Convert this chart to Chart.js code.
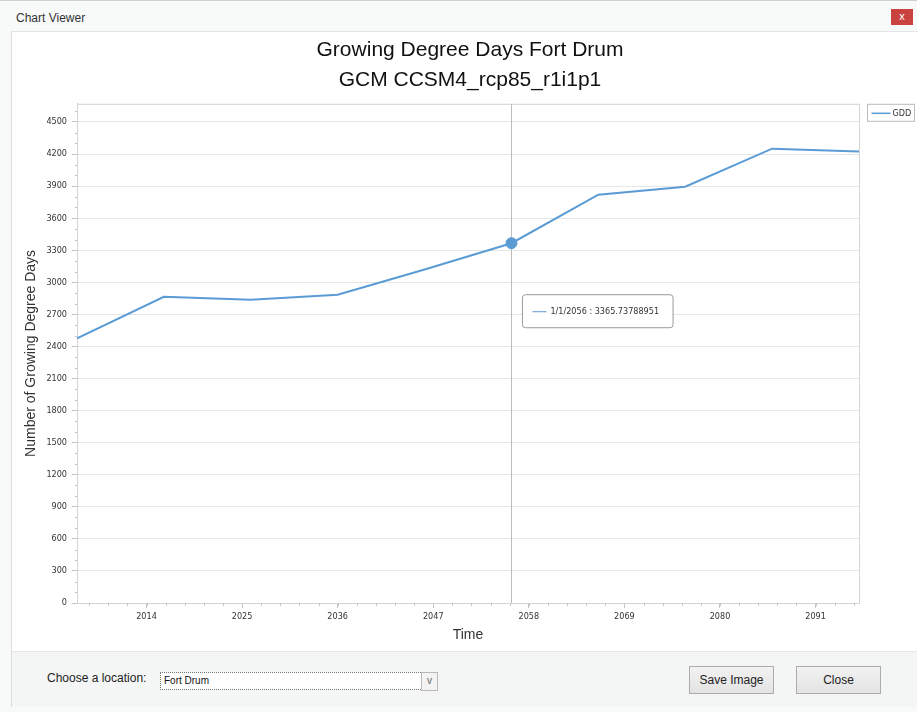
<!DOCTYPE html>
<html>
<head>
<meta charset="utf-8">
<script src="https://cdn.jsdelivr.net/npm/chart.js@4.4.1/dist/chart.umd.min.js"></script>
<style>
  body { margin: 0; width: 917px; height: 712px; background: #f8f9f9; position: relative; overflow: hidden;
         font-family: 'Liberation Sans', Arial, sans-serif; color: #333; }
  #topline { position: absolute; left: 0; top: 0; width: 917px; height: 1px; background: #cfcfcf; }
  #caption { position: absolute; left: 16px; top: 11px; font-size: 12px; color: #333; }
  #closeX { position: absolute; left: 891px; top: 9px; width: 22px; height: 16px; background: #c9423f;
            color: #fff; font-size: 11px; text-align: center; line-height: 15px; }
  #frame { position: absolute; left: 11px; top: 31px; width: 906px; height: 674px; background: #fff;
           border-left: 1px solid #dcdcdc; border-top: 1px solid #e4e4e4; border-bottom: 1px solid #d8d8d8; }
  #chartBox { position: absolute; left: 0; top: 0; width: 906px; height: 619px; }
  #panel { position: absolute; left: 0; top: 619px; width: 906px; height: 55px; background: #f4f5f5;
           border-top: 1px solid #e6e6e6; }
  #lbl { position: absolute; left: 35px; top: 19px; font-size: 12px; color: #222; }
  #sel { position: absolute; left: 148px; top: 20px; width: 258px; height: 16px; background: #fff;
         border: 1px dotted #777; font-size: 10px; line-height: 16px; padding-left: 3px; color: #111; }
  #drop { position: absolute; left: 409px; top: 20px; width: 15px; height: 17px; background: #f3f3f3;
          border: 1px solid #b9b9b9; font-size: 10px; text-align: center; line-height: 16px; color: #666; }
  .btn { position: absolute; top: 14px; width: 83px; height: 26px; border: 1px solid #acacac;
         background: linear-gradient(#f2f2f2, #e3e3e3); font-size: 12px; text-align: center; line-height: 26px; color: #222; }
</style>
</head>
<body>
<div id="topline"></div>
<div id="caption">Chart Viewer</div>
<div id="closeX">x</div>
<div id="frame">
  <div id="chartBox"><canvas id="gddChart"></canvas></div>
  <div id="panel">
    <div id="lbl">Choose a location:</div>
    <div id="sel">Fort Drum</div>
    <div id="drop">v</div>
    <div class="btn" style="left:677px">Save Image</div>
    <div class="btn" style="left:784px">Close</div>
  </div>
</div>
<script>
// ==== Data ====
const years = [2006, 2016, 2026, 2036, 2046, 2056, 2066, 2076, 2086, 2096];
const gdd = [2475, 2865, 2837, 2884, 3120, 3365.73788951, 3820, 3894, 4250, 4224];
const xTickYears = [2014, 2025, 2036, 2047, 2058, 2069, 2080, 2091];
const yTicks = [0, 300, 600, 900, 1200, 1500, 1800, 2100, 2400, 2700, 3000, 3300, 3600, 3900, 4200, 4500];
const seriesName = 'GDD';
const activeIndex = 5; // point under the cursor (1/1/2056)

const tickFont = { family: "'DejaVu Sans Condensed', 'DejaVu Sans', sans-serif", size: 9 };
const lineColor = '#5b9bd5';

// minor tick marks (shorter, no label)
const minorTicks = {
  id: 'minorTicks',
  afterDraw(chart) {
    const ctx = chart.ctx, x = chart.scales.x, y = chart.scales.y, a = chart.chartArea;
    ctx.save();
    ctx.strokeStyle = '#c4c4c4';
    ctx.lineWidth = 1;
    ctx.beginPath();
    const xStep = (xTickYears[1] - xTickYears[0]) / 5;
    for (let v = xTickYears[0] - 4 * xStep; v < x.max; v += xStep) {
      if (v < x.min) continue;
      const px = Math.round(x.getPixelForValue(v)) + 0.5;
      ctx.moveTo(px, a.bottom); ctx.lineTo(px, a.bottom + 3);
    }
    for (let v = 100; v < y.max; v += 100) {
      if (v % 300 === 0) continue;
      const py = Math.round(y.getPixelForValue(v)) + 0.5;
      ctx.moveTo(a.left - 2, py); ctx.lineTo(a.left, py);
    }
    ctx.stroke();
    ctx.restore();
  }
};

// plot frame + crosshair under the series
const frameAndCross = {
  id: 'frameAndCross',
  beforeDatasetsDraw(chart) {
    const ctx = chart.ctx, a = chart.chartArea;
    ctx.save();
    ctx.strokeStyle = '#d4d4d4';
    ctx.lineWidth = 1;
    ctx.strokeRect(a.left + 0.5, a.top + 0.5, a.width, a.height);
    const act = chart.getActiveElements();
    if (act.length) {
      const px = Math.round(act[0].element.x) + 0.5;
      ctx.strokeStyle = '#bdbdbd';
      ctx.beginPath(); ctx.moveTo(px, a.top); ctx.lineTo(px, a.bottom); ctx.stroke();
    }
    ctx.restore();
  }
};

// boxed legend to the right of the plot
const boxLegend = {
  id: 'boxLegend',
  afterDraw(chart) {
    const ctx = chart.ctx, a = chart.chartArea;
    const bx = a.right + 8.5, by = a.top + 0.5, bw = 47, bh = 17;
    ctx.save();
    ctx.fillStyle = '#fff';
    ctx.fillRect(bx, by, bw, bh);
    ctx.strokeStyle = '#bcbcbc';
    ctx.strokeRect(bx, by, bw, bh);
    ctx.strokeStyle = lineColor;
    ctx.lineWidth = 1.5;
    ctx.beginPath(); ctx.moveTo(bx + 4, by + 9); ctx.lineTo(bx + 23, by + 9); ctx.stroke();
    ctx.fillStyle = '#333';
    ctx.font = tickFont.size + 'px ' + tickFont.family;
    ctx.textBaseline = 'middle';
    ctx.fillText(chart.data.datasets[0].label, bx + 25, by + 9);
    ctx.restore();
  }
};

Chart.Tooltip.positioners.belowRight = function (items) {
  if (!items.length) return false;
  const el = items[0].element;
  return { x: el.x + 11, y: el.y + 68 };
};

const chart = new Chart(document.getElementById('gddChart'), {
  type: 'line',
  data: {
    datasets: [{
      label: seriesName,
      data: years.map((y, i) => ({ x: y, y: gdd[i] })),
      borderColor: lineColor,
      backgroundColor: lineColor,
      borderWidth: 2,
      tension: 0,
      pointRadius: 0,
      pointHoverRadius: 5.5,
      pointHoverBorderWidth: 1,
      pointHoverBackgroundColor: lineColor,
      pointHoverBorderColor: lineColor
    }]
  },
  options: {
    responsive: true,
    maintainAspectRatio: false,
    animation: false,
    events: [],
    layout: { padding: { left: 10, right: 0, top: 0, bottom: 0 } },
    plugins: {
      legend: { display: false },
      title: {
        display: true,
        text: ['Growing Degree Days Fort Drum', 'GCM CCSM4_rcp85_r1i1p1'],
        color: '#111',
        font: { family: "'Liberation Sans', Arial, sans-serif", size: 21, weight: 'normal', lineHeight: 1.4 },
        padding: { top: 4, bottom: 9 }
      },
      tooltip: {
        position: 'belowRight',
        xAlign: 'left', yAlign: 'center',
        backgroundColor: '#fff',
        borderColor: '#999',
        borderWidth: 1,
        cornerRadius: 3,
        caretSize: 0, caretPadding: 0,
        displayColors: true, usePointStyle: true,
        boxWidth: 14, boxHeight: 14, boxPadding: 2,
        bodyColor: '#333',
        bodyFont: tickFont,
        padding: { left: 10, right: 14, top: 10, bottom: 9 },
        callbacks: {
          title: () => '',
          label: c => '1/1/' + c.parsed.x + ' : ' + c.parsed.y,
          labelPointStyle: () => ({ pointStyle: 'line', rotation: 0 }),
          labelColor: () => ({ borderColor: lineColor, backgroundColor: lineColor })
        }
      }
    },
    scales: {
      x: {
        type: 'linear',
        min: years[0], max: years[years.length - 1],
        afterBuildTicks: s => { s.ticks = xTickYears.map(v => ({ value: v })); },
        afterFit: s => { s.height = 48; },
        ticks: { font: tickFont, color: '#333', padding: 3, maxRotation: 0, autoSkip: false, callback: v => String(v) },
        grid: { drawOnChartArea: false, tickLength: 5, tickColor: '#c4c4c4' },
        border: { color: '#c8c8c8' },
        title: { display: true, text: 'Time', color: '#333',
                 font: { family: "'Liberation Sans', Arial, sans-serif", size: 14 }, padding: { top: 0, bottom: 7 } }
      },
      y: {
        min: 0, max: 4670,
        afterBuildTicks: s => { s.ticks = yTicks.map(v => ({ value: v })); },
        afterFit: s => { s.width = 55; },
        ticks: { font: tickFont, color: '#333', padding: 5, callback: v => String(v) },
        grid: { color: '#e6e6e6', tickLength: 5, tickColor: '#c4c4c4' },
        border: { color: '#c8c8c8' },
        title: { display: true, text: 'Number of Growing Degree Days', color: '#333',
                 font: { family: "'Liberation Sans', Arial, sans-serif", size: 14 }, padding: { top: 1, bottom: 0 } }
      },
      // empty right axis reserving room for the legend box
      legendSpace: {
        type: 'linear', axis: 'y', position: 'right',
        afterFit: s => { s.width = 59; },
        ticks: { display: false },
        grid: { display: false },
        border: { display: false }
      }
    }
  },
  plugins: [frameAndCross, minorTicks, boxLegend]
});

const active = [{ datasetIndex: 0, index: activeIndex }];
chart.setActiveElements(active);
chart.tooltip.setActiveElements(active, { x: 0, y: 0 });
chart.update();
</script>
</body>
</html>
